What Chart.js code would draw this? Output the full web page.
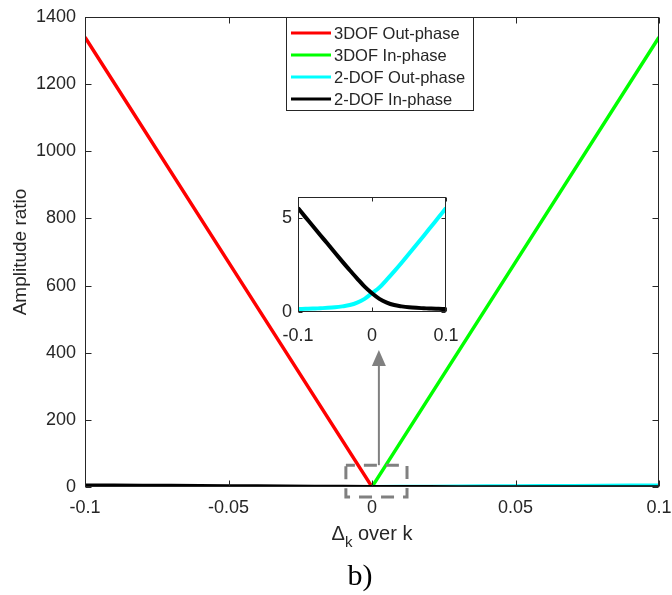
<!DOCTYPE html>
<html>
<head>
<meta charset="utf-8">
<script src="https://cdn.jsdelivr.net/npm/chart.js@4.4.1/dist/chart.umd.min.js"></script>
<style>
  body { margin: 0; background: #fff; }
  #wrap { position: relative; width: 672px; height: 595px; }
  #main { position: absolute; left: 0; top: 0; }
  #inset { position: absolute; left: 250px; top: 185px; }
</style>
</head>
<body>
<div id="wrap">
  <canvas id="main" width="672" height="595"></canvas>
  <canvas id="inset" width="210" height="160"></canvas>
</div>
<script>
// values
const seriesNames = ['3DOF Out-phase', '3DOF In-phase', '2-DOF Out-phase', '2-DOF In-phase'];
const seriesColors = ['#ff0000', '#00ff00', '#00ffff', '#000000'];

const xCoarse = [-0.1, -0.05, 0, 0.05, 0.1];
const dof3Out = [1340, 670, 0.5, 0.2, 0.1];
const dof3In = [0.1, 0.2, 0.5, 670, 1340];

const xFine = [-0.1, -0.09, -0.08, -0.07, -0.06, -0.05, -0.04, -0.03, -0.02, -0.01, 0,
               0.01, 0.02, 0.03, 0.04, 0.05, 0.06, 0.07, 0.08, 0.09, 0.1];
const dof2Out = [0.16, 0.17, 0.18, 0.2, 0.22, 0.25, 0.3, 0.37, 0.5, 0.7, 1.0,
                 1.3, 1.72, 2.16, 2.62, 3.1, 3.58, 4.06, 4.55, 5.04, 5.53];
const dof2In = [5.53, 5.05, 4.58, 4.1, 3.63, 3.15, 2.68, 2.22, 1.78, 1.35, 1.0,
                0.7, 0.5, 0.37, 0.3, 0.25, 0.22, 0.2, 0.18, 0.17, 0.16];

const mainYTicks = [0, 200, 400, 600, 800, 1000, 1200, 1400];
const insetYTicks = [0, 5];

const FONT = '"Liberation Sans", Arial, sans-serif';
const AXIS = '#262626';
const GRAY = '#808080';

function pts(xs, ys) { return xs.map((x, i) => ({ x: x, y: ys[i] })); }
function fmt(v) { return String(Math.round(v * 1000) / 1000); }

// box round the axes plus inward ticks, like matlab
function drawFrame(chart, len) {
  const ctx = chart.ctx, a = chart.chartArea;
  const xs = chart.scales.x, ys = chart.scales.y;
  ctx.save();
  ctx.strokeStyle = AXIS;
  ctx.lineWidth = 1;
  const l = Math.round(a.left) + 0.5, r = Math.round(a.right) - 0.5;
  const t = Math.round(a.top) + 0.5, b = Math.round(a.bottom) - 0.5;
  ctx.strokeRect(l, t, r - l, b - t);
  ctx.beginPath();
  xs.ticks.forEach(tk => {
    const p = Math.round(xs.getPixelForValue(tk.value)) + 0.5;
    ctx.moveTo(p, b); ctx.lineTo(p, b - len);
    ctx.moveTo(p, t); ctx.lineTo(p, t + len);
  });
  ys.ticks.forEach(tk => {
    const p = Math.round(ys.getPixelForValue(tk.value)) + 0.5;
    ctx.moveTo(l, p); ctx.lineTo(l + len, p);
    ctx.moveTo(r, p); ctx.lineTo(r - len, p);
  });
  ctx.stroke();
  ctx.restore();
}

// stop chart.js from shrinking the plot for the edge labels
function noPad(s) { s.paddingLeft = 0; s.paddingRight = 0; s.paddingTop = 0; s.paddingBottom = 0; }

const mainDecor = {
  id: 'mainDecor',
  afterDraw(chart) {
    drawFrame(chart, 6);
    const ctx = chart.ctx, xs = chart.scales.x, ys = chart.scales.y, a = chart.chartArea;
    ctx.save();

    // dashed zoom box and arrow up to the inset
    ctx.strokeStyle = GRAY;
    ctx.lineWidth = 3;
    ctx.setLineDash([13, 9]);
    ctx.lineDashOffset = 4;
    const bx0 = xs.getPixelForValue(-0.0091), bx1 = xs.getPixelForValue(0.0122);
    const by0 = ys.getPixelForValue(65), by1 = ys.getPixelForValue(-30);
    ctx.strokeRect(bx0, by0, bx1 - bx0, by1 - by0);
    ctx.setLineDash([]);
    const ax = xs.getPixelForValue(0.0024);
    const tip = ys.getPixelForValue(408);
    ctx.lineWidth = 2;
    ctx.beginPath();
    ctx.moveTo(ax, by0);
    ctx.lineTo(ax, tip + 14);
    ctx.stroke();
    ctx.fillStyle = GRAY;
    ctx.beginPath();
    ctx.moveTo(ax, tip);
    ctx.lineTo(ax - 7, tip + 16);
    ctx.lineTo(ax + 7, tip + 16);
    ctx.closePath();
    ctx.fill();

    // legend
    const lx = 286, ly = 17, lw = 187, lh = 93;
    ctx.fillStyle = '#fff';
    ctx.fillRect(lx, ly, lw, lh);
    ctx.strokeStyle = AXIS;
    ctx.lineWidth = 1;
    ctx.strokeRect(lx + 0.5, ly + 0.5, lw, lh);
    ctx.font = '16.5px ' + FONT;
    ctx.textBaseline = 'middle';
    ctx.textAlign = 'left';
    seriesNames.forEach((name, i) => {
      const y = ly + 16 + i * 22;
      ctx.strokeStyle = seriesColors[i];
      ctx.lineWidth = 3;
      ctx.beginPath();
      ctx.moveTo(lx + 5, y);
      ctx.lineTo(lx + 45, y);
      ctx.stroke();
      ctx.fillStyle = AXIS;
      ctx.fillText(name, lx + 48, y + 1);
    });

    // axis titles
    ctx.fillStyle = AXIS;
    ctx.save();
    ctx.translate(26, (a.top + a.bottom) / 2);
    ctx.rotate(-Math.PI / 2);
    ctx.textAlign = 'center';
    ctx.textBaseline = 'alphabetic';
    ctx.font = '19px ' + FONT;
    ctx.fillText('Amplitude ratio', 0, 0);
    ctx.restore();

    ctx.textBaseline = 'alphabetic';
    ctx.textAlign = 'left';
    const big = '20px ' + FONT, small = '15px ' + FONT;
    ctx.font = big; const wD = ctx.measureText('\u0394').width;
    ctx.font = small; const wk = ctx.measureText('k').width;
    ctx.font = big; const wr = ctx.measureText(' over k').width;
    let x0 = (a.left + a.right) / 2 - (wD + wk + wr) / 2;
    const base = 540;
    ctx.font = big; ctx.fillText('\u0394', x0, base);
    ctx.font = small; ctx.fillText('k', x0 + wD, base + 7);
    ctx.font = big; ctx.fillText(' over k', x0 + wD + wk, base);

    ctx.textAlign = 'center';
    ctx.fillStyle = '#000';
    ctx.font = '30px "Liberation Serif", "Times New Roman", serif';
    ctx.fillText('b)', 360, 585);
    ctx.restore();
  }
};

const insetDecor = {
  id: 'insetDecor',
  beforeDatasetsDraw(chart) {
    const a = chart.chartArea, ctx = chart.ctx;
    ctx.save();
    ctx.fillStyle = '#fff';
    ctx.fillRect(a.left, a.top, a.right - a.left, a.bottom - a.top);
    ctx.restore();
  },
  afterDraw(chart) { drawFrame(chart, 4); }
};

function tickFont(size) { return { family: FONT, size: size }; }

new Chart(document.getElementById('main'), {
  type: 'line',
  data: {
    datasets: [
      { label: seriesNames[0], data: pts(xCoarse, dof3Out), borderColor: seriesColors[0], borderWidth: 3.5, order: 4 },
      { label: seriesNames[1], data: pts(xCoarse, dof3In), borderColor: seriesColors[1], borderWidth: 3.5, order: 3 },
      { label: seriesNames[2], data: pts(xFine, dof2Out), borderColor: seriesColors[2], borderWidth: 3.5, order: 2 },
      { label: seriesNames[3], data: pts(xFine, dof2In), borderColor: seriesColors[3], borderWidth: 3.5, order: 1 }
    ]
  },
  options: {
    responsive: false,
    animation: false,
    elements: { point: { radius: 0 }, line: { tension: 0 } },
    layout: { padding: { left: 0, right: 13, top: 17, bottom: 0 } },
    plugins: { legend: { display: false }, tooltip: { enabled: false } },
    scales: {
      x: {
        type: 'linear', min: -0.1, max: 0.1,
        grid: { display: false, drawTicks: false }, border: { display: false },
        ticks: { stepSize: 0.05, padding: 10, color: AXIS, font: tickFont(18), maxRotation: 0, autoSkip: false, callback: fmt },
        afterFit: s => { s.height = 108; noPad(s); }
      },
      y: {
        min: 0, max: 1400,
        grid: { display: false, drawTicks: false }, border: { display: false },
        ticks: { padding: 9, color: AXIS, font: tickFont(18), callback: fmt },
        afterBuildTicks: s => { s.ticks = mainYTicks.map(v => ({ value: v })); },
        afterFit: s => { s.width = 85; noPad(s); }
      }
    }
  },
  plugins: [mainDecor]
});

new Chart(document.getElementById('inset'), {
  type: 'line',
  data: {
    datasets: [
      { label: seriesNames[2], data: pts(xFine, dof2Out), borderColor: seriesColors[2], borderWidth: 4, order: 2 },
      { label: seriesNames[3], data: pts(xFine, dof2In), borderColor: seriesColors[3], borderWidth: 4, order: 1 }
    ]
  },
  options: {
    responsive: false,
    animation: false,
    elements: { point: { radius: 0 }, line: { cubicInterpolationMode: 'monotone' } },
    layout: { padding: { left: 0, right: 14, top: 12, bottom: 0 } },
    plugins: { legend: { display: false }, tooltip: { enabled: false } },
    scales: {
      x: {
        type: 'linear', min: -0.1, max: 0.1,
        grid: { display: false, drawTicks: false }, border: { display: false },
        ticks: { stepSize: 0.1, padding: 13, color: AXIS, font: tickFont(18), maxRotation: 0, autoSkip: false, callback: fmt },
        afterFit: s => { s.height = 33; noPad(s); }
      },
      y: {
        min: 0, max: 6.12,
        grid: { display: false, drawTicks: false }, border: { display: false },
        ticks: { padding: 6, color: AXIS, font: tickFont(18), callback: fmt },
        afterBuildTicks: s => { s.ticks = insetYTicks.map(v => ({ value: v })); },
        afterFit: s => { s.width = 48; noPad(s); }
      }
    }
  },
  plugins: [insetDecor]
});
</script>
</body>
</html>
